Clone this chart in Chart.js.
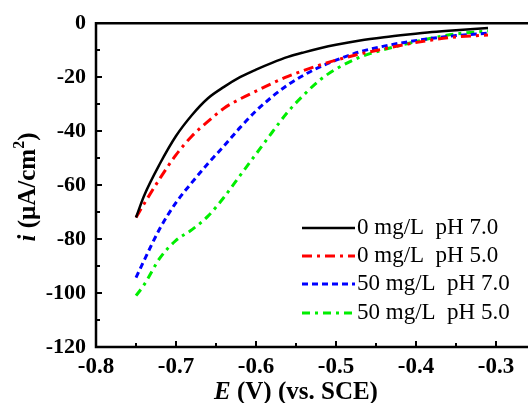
<!DOCTYPE html>
<html>
<head>
<meta charset="utf-8">
<script src="https://cdn.jsdelivr.net/npm/chart.js@4"></script>
<style>
html, body { margin: 0; padding: 0; overflow: hidden; background: #fff; }
canvas { display: block; }
</style>
</head>
<body>
<canvas id="lsv" width="545" height="403"></canvas>
<script>
// potential E (V vs. SCE), shared by all four sweeps
var potential = [-0.75, -0.74, -0.72, -0.70, -0.68, -0.66, -0.64, -0.62, -0.60, -0.58,
                 -0.56, -0.54, -0.52, -0.50, -0.47, -0.44, -0.41, -0.38, -0.35, -0.31];
// current density i (uA/cm2)
var cur0pH7  = [-72, -64, -52, -41.8, -34, -27.8, -23.6, -20, -17.2, -14.7,
                -12.5, -10.8, -9.3, -8.0, -6.4, -5.2, -4.2, -3.3, -2.6, -1.8];
var cur0pH5  = [-72, -67, -57.5, -48.8, -41.8, -36.4, -31.5, -28.1, -25.2, -22.3,
                -19.7, -17.5, -15.5, -13.7, -11.4, -9.5, -7.7, -6.2, -5.1, -4.4];
var cur50pH7 = [-94.3, -88, -76, -66.5, -59, -52, -45.5, -38.7, -32.5, -27.3,
                -22.8, -19.2, -16.2, -13.7, -10.6, -8.5, -6.9, -5.6, -4.6, -3.7];
var cur50pH5 = [-101, -97, -87, -80.5, -76.5, -71.5, -64.5, -56.5, -48.5, -40.5,
                -32.8, -26.5, -21, -17, -12.6, -9.8, -7.5, -5.5, -4.0, -2.9];

var labels = ['0 mg/L  pH 7.0', '0 mg/L  pH 5.0', '50 mg/L  pH 7.0', '50 mg/L  pH 5.0'];
var xTicks = [-0.8, -0.7, -0.6, -0.5, -0.4, -0.3];
var yTicks = [0, -20, -40, -60, -80, -100, -120];

function pts(ys) {
    var out = [];
    for (var i = 0; i < potential.length; i++) out.push({x: potential[i], y: ys[i]});
    return out;
}

var serif = '"Liberation Serif", "Times New Roman", serif';

// frame, inward ticks, axis titles and legend
var decor = {
    id: 'decor',
    afterDraw: function(chart) {
        var ctx = chart.ctx, a = chart.chartArea;
        var xs = chart.scales.x, ys = chart.scales.y;
        ctx.save();
        ctx.strokeStyle = '#000';
        ctx.lineWidth = 2.5;
        ctx.beginPath();
        ctx.moveTo(a.right, a.top); ctx.lineTo(a.left, a.top);
        ctx.lineTo(a.left, a.bottom); ctx.lineTo(a.right, a.bottom);
        ctx.stroke();

        ctx.lineWidth = 2;
        ctx.beginPath();
        for (var v = -110; v < 0; v += 10) {
            var py = Math.round(ys.getPixelForValue(v));
            var len = (v % 20 === 0) ? 6 : 4;
            ctx.moveTo(a.left, py); ctx.lineTo(a.left + len, py);
        }
        for (var k = 1; k <= 10; k++) {
            var ev = -0.8 + k * 0.05;
            var px = Math.round(xs.getPixelForValue(ev));
            var l2 = (k % 2 === 0) ? 6 : 4;
            ctx.moveTo(px, a.bottom); ctx.lineTo(px, a.bottom - l2);
        }
        ctx.stroke();

        ctx.fillStyle = '#000';
        ctx.textBaseline = 'middle';

        // x title
        var f1 = 'italic bold 25px ' + serif, f2 = 'bold 25px ' + serif;
        ctx.font = f1; var wE = ctx.measureText('E').width;
        ctx.font = f2; var rest = ' (V) (vs. SCE)'; var wR = ctx.measureText(rest).width;
        var x0 = 296 - (wE + wR) / 2;
        ctx.textAlign = 'left';
        ctx.font = f1; ctx.fillText('E', x0, 393);
        ctx.font = f2; ctx.fillText(rest, x0 + wE, 393);

        // y title, rotated
        ctx.save();
        ctx.translate(29, 187);
        ctx.rotate(-Math.PI / 2);
        var p1 = 'i', p2 = ' (\u03bcA/cm', p3 = '2', p4 = ')';
        ctx.font = f1; var w1 = ctx.measureText(p1).width;
        ctx.font = f2; var w2 = ctx.measureText(p2).width;
        var f3 = 'bold 16px ' + serif;
        ctx.font = f3; var w3 = ctx.measureText(p3).width;
        ctx.font = f2; var w4 = ctx.measureText(p4).width;
        var sx = -(w1 + w2 + w3 + w4) / 2;
        ctx.font = f1; ctx.fillText(p1, sx, 0); sx += w1;
        ctx.font = f2; ctx.fillText(p2, sx, 0); sx += w2;
        ctx.font = f3; ctx.fillText(p3, sx, -9); sx += w3;
        ctx.font = f2; ctx.fillText(p4, sx, 0);
        ctx.restore();

        // legend
        var rows = [228, 256, 284, 313];
        chart.data.datasets.forEach(function(ds, i) {
            ctx.save();
            ctx.strokeStyle = ds.borderColor;
            ctx.lineWidth = ds.borderWidth;
            ctx.setLineDash(ds.borderDash || []);
            ctx.beginPath();
            ctx.moveTo(302, rows[i]); ctx.lineTo(355, rows[i]);
            ctx.stroke();
            ctx.restore();
            ctx.font = '23px ' + serif;
            ctx.textAlign = 'left';
            ctx.fillText(ds.label, 357, rows[i]);
        });
        ctx.restore();
    }
};

new Chart(document.getElementById('lsv'), {
    type: 'scatter',
    data: {
        datasets: [
            { label: labels[0], data: pts(cur0pH7), borderColor: '#000000', borderWidth: 2.5, borderDash: [] },
            { label: labels[1], data: pts(cur0pH5), borderColor: '#ff0000', borderWidth: 3, borderDash: [10, 5, 3, 5] },
            { label: labels[2], data: pts(cur50pH7), borderColor: '#0000ff', borderWidth: 3, borderDash: [6, 4] },
            { label: labels[3], data: pts(cur50pH5), borderColor: '#00ee00', borderWidth: 3, borderDash: [8, 5, 3, 5] }
        ].map(function(d) {
            d.showLine = true; d.pointRadius = 0; d.cubicInterpolationMode = 'monotone'; d.fill = false;
            return d;
        })
    },
    options: {
        responsive: false,
        animation: false,
        layout: { padding: { top: 20, right: 9, left: 0, bottom: 0 } },
        plugins: { legend: { display: false }, tooltip: { enabled: false } },
        scales: {
            x: {
                type: 'linear', min: -0.8, max: -0.25,
                grid: { display: false, drawTicks: false },
                border: { display: false },
                afterFit: function(s) { s.height = 56; },
                afterBuildTicks: function(s) { s.ticks = xTicks.map(function(v) { return {value: v}; }); },
                ticks: {
                    padding: 6, color: '#000',
                    font: { family: serif, size: 23, weight: 'bold' },
                    callback: function(v) { return v.toFixed(1); }
                }
            },
            y: {
                type: 'linear', min: -120, max: 0,
                grid: { display: false, drawTicks: false },
                border: { display: false },
                afterFit: function(s) { s.width = 96; },
                afterBuildTicks: function(s) { s.ticks = yTicks.map(function(v) { return {value: v}; }); },
                ticks: {
                    padding: 10, color: '#000',
                    font: { family: serif, size: 22, weight: 'bold' },
                    callback: function(v) { return String(v); }
                }
            }
        }
    },
    plugins: [decor]
});
</script>
</body>
</html>
